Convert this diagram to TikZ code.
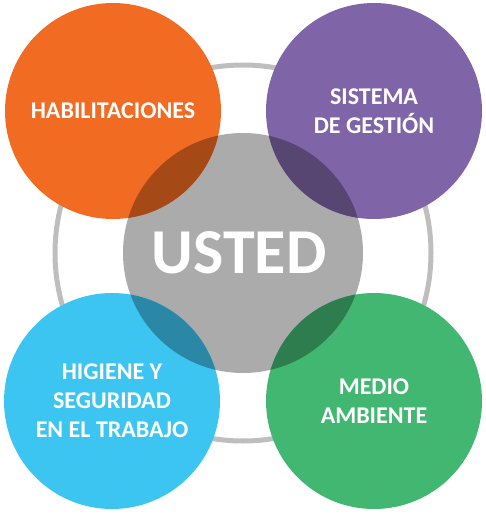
\documentclass[tikz,border=0pt]{standalone}
\usepackage{fontspec}
\setmainfont{Carlito}
\definecolor{ringgray}{RGB}{190,190,190}
\definecolor{ustedgray}{RGB}{171,171,171}
\definecolor{habilorange}{RGB}{241,107,34}
\definecolor{habildark}{RGB}{165,74,22}
\definecolor{gestpurple}{RGB}{128,100,168}
\definecolor{gestdark}{RGB}{88,70,114}
\definecolor{higblue}{RGB}{61,197,242}
\definecolor{higdark}{RGB}{42,135,166}
\definecolor{ambgreen}{RGB}{65,183,114}
\definecolor{ambdark}{RGB}{45,125,78}
\tikzset{
  topic/.style={circle, minimum size=216pt, inner sep=0pt, text=white,
    font=\fontsize{24}{29}\selectfont\bfseries, align=center},
}

\begin{document}
\begin{tikzpicture}[x=1pt, y=-1pt]
\useasboundingbox (0,0) rectangle (486,514);
% Outer ring behind everything
\draw[ringgray, line width=5pt] (243,253) circle (188);
% Central circle
\node[circle, minimum size=240pt, inner sep=0pt, fill=ustedgray] (usted) at (243,253) {};
% Four topic circles
\node[topic, fill=habilorange] (habil) at (113,111) {HABILITACIONES};
\node[topic, fill=gestpurple] (gest) at (374,111) {SISTEMA\\DE GESTIÓN};
\node[topic, fill=higblue] (hig) at (112,401) {HIGIENE Y\\SEGURIDAD\\EN EL TRABAJO};
\node[topic, fill=ambgreen] (amb) at (374,401) {MEDIO\\AMBIENTE};
% Darker overlaps with the central circle
\foreach \c/\col in {habil/habildark, gest/gestdark, hig/higdark, amb/ambdark}{
  \begin{scope}
    \clip (\c.center) circle (108);
    \fill[\col] (usted.center) circle (120);
  \end{scope}
}
\node[text=white, font=\fontsize{64}{64}\selectfont\bfseries] (ustedlbl) at (239,253) {USTED};
\end{tikzpicture}
\end{document}
